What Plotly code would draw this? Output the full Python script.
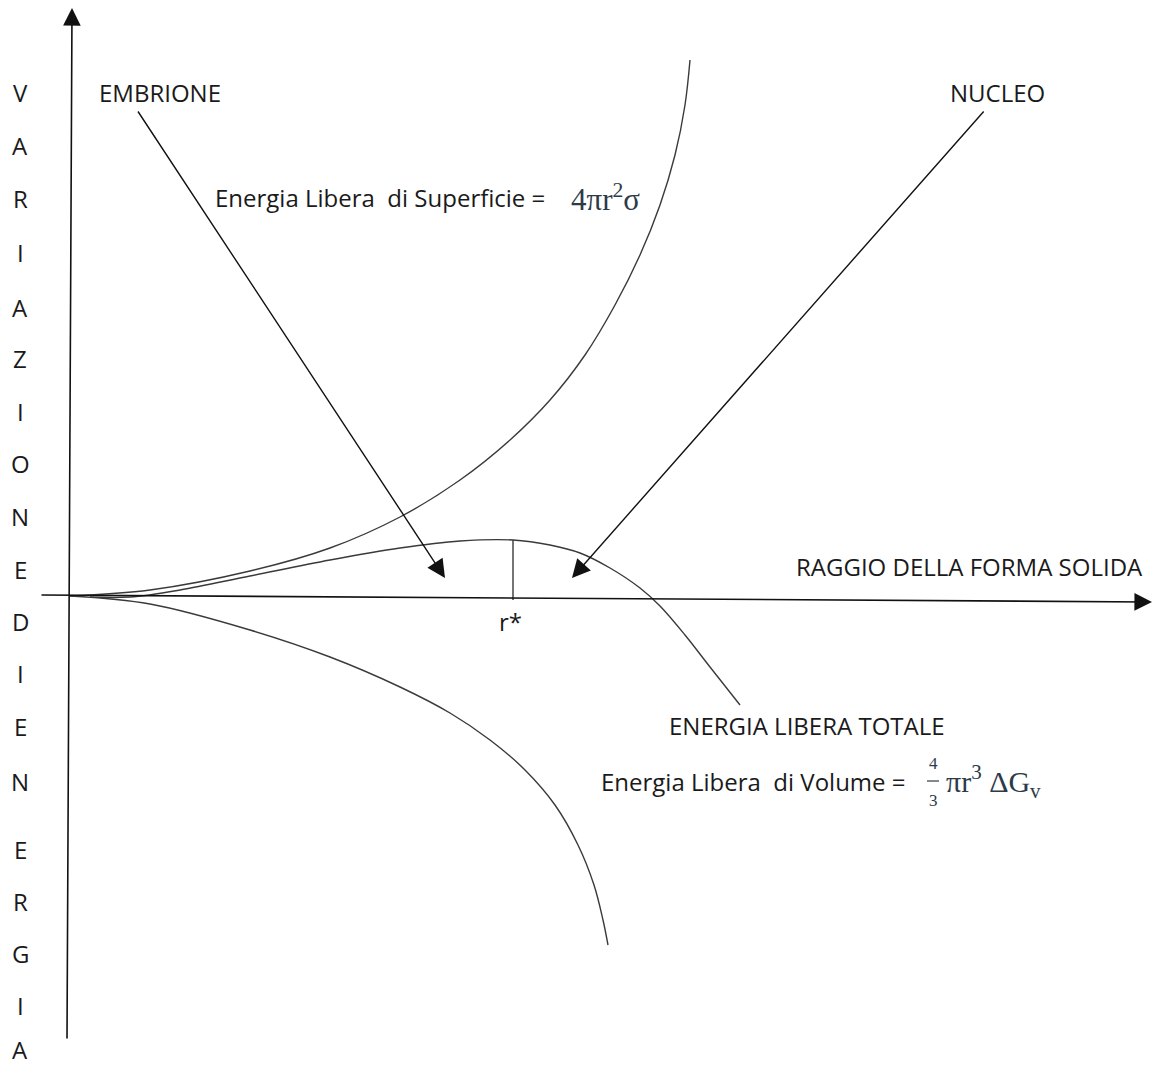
import plotly.graph_objects as go

# Free-energy curves for nucleation (radius r vs energy change), chart units
r_surface = [0, 80, 180, 260, 330, 390, 440, 480, 515, 545, 570, 590, 605, 615, 620]
g_surface = [1, 7, 26, 49, 80, 117, 157, 197, 242, 292, 342, 392, 442, 492, 537]

r_volume = [0, 80, 180, 260, 330, 380, 420, 455, 485, 508, 524, 533, 538]
g_volume = [1, -7, -33, -60, -90, -116, -143, -173, -208, -248, -288, -323, -348]

r_total = [20, 60, 110, 180, 260, 330, 390, 443, 480, 510, 540, 570, 590, 615, 640, 670]
g_total = [0, 0, 7, 21, 37, 49, 56, 57, 52, 44, 29, 9, -9, -38, -70, -108]

r_star = 443
g_star = 57

# Vertical axis title, one letter per row
y_title_letters = list("VARIAZIONEDIENERGIA")
y_title_rows = [505, 452, 399, 345, 290, 239, 186, 134, 81, 28,
                -24, -76, -129, -184, -252, -304, -356, -408, -452]

FONT = "Open Sans"
MATH = "Liberation Serif"
INK = "#1a1a1a"
MATH_INK = "#2d3a48"
LINE = "#3a3a3a"

fig = go.Figure()
for xs, ys in [(r_surface, g_surface), (r_volume, g_volume), (r_total, g_total)]:
    fig.add_trace(go.Scatter(x=xs, y=ys, mode="lines",
                             line=dict(color=LINE, width=1.4, shape="spline", smoothing=1.0),
                             hoverinfo="skip", showlegend=False))

# r* marker line
fig.add_trace(go.Scatter(x=[r_star, r_star], y=[g_star, -3], mode="lines",
                         line=dict(color=LINE, width=1.4), hoverinfo="skip", showlegend=False))

ann = []

def arrow(x0, y0, x1, y1, width=1.5, size=1.6, color="#111"):
    ann.append(dict(x=x1, y=y1, ax=x0, ay=y0, xref="x", yref="y", axref="x", ayref="y",
                    text="", showarrow=True, arrowhead=2, arrowsize=size,
                    arrowwidth=width, arrowcolor=color))

# axes with arrowheads
arrow(-30, 2, 1082, -5, width=1.6, size=2.2)
arrow(-3, -443, 2, 589, width=1.6, size=2.2)
# pointer arrows
arrow(67, 487, 375, 19, width=1.4, size=2.6)
arrow(915, 487, 502, 19, width=1.4, size=2.6)

def text(x, y, s, size=24, font=FONT, anchor="left", color=INK):
    ann.append(dict(x=x, y=y, xref="x", yref="y", text=s, showarrow=False,
                    xanchor=anchor, yanchor="middle",
                    font=dict(family=font, size=size, color=color)))

for ch, yy in zip(y_title_letters, y_title_rows):
    text(-50, yy, ch, anchor="center")

text(27, 505, "EMBRIONE")
text(878, 505, "NUCLEO")
text(143, 400, "Energia Libera  di Superficie = ")
text(499, 400, "4πr<sup>2</sup>σ", size=31, font=MATH, color=MATH_INK)
text(724, 31, "RAGGIO DELLA FORMA SOLIDA")
text(440, -24, "r*", anchor="center")
text(597, -128, "ENERGIA LIBERA TOTALE")
text(529, -184, "Energia Libera  di Volume = ")
# fraction 4/3
text(863, -166, "4", size=17, font=MATH, anchor="center", color=MATH_INK)
text(863, -203, "3", size=17, font=MATH, anchor="center", color=MATH_INK)
text(874, -184, "πr<sup>3</sup> ΔG<sub>v</sub>", size=30, font=MATH, color=MATH_INK)

fig.add_shape(type="line", xref="x", yref="y", x0=857, x1=869, y0=-184, y1=-184,
              line=dict(color=MATH_INK, width=1.2))

fig.update_layout(
    width=1156, height=1069,
    margin=dict(l=0, r=0, t=0, b=0),
    paper_bgcolor="white", plot_bgcolor="white",
    xaxis=dict(range=[-70, 1086], visible=False, fixedrange=True),
    yaxis=dict(range=[-472, 597], visible=False, fixedrange=True),
    annotations=ann,
)

fig.write_html("out.html")
